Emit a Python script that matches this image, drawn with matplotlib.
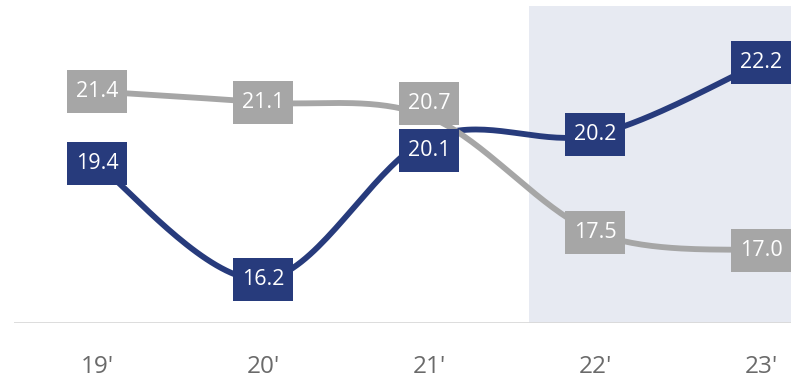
import numpy as np
import matplotlib.pyplot as plt
from matplotlib.patches import Rectangle

# data
years = ["19'", "20'", "21'", "22'", "23'"]
navy_vals = [19.4, 16.2, 20.1, 20.2, 22.2]
gray_vals = [21.4, 21.1, 20.7, 17.5, 17.0]

NAVY = '#273B7C'
GRAY = '#A6A6A6'
SHADE = '#E7EAF2'
plt.rcParams['font.family'] = ['Open Sans', 'DejaVu Sans']


def smooth(xs, ys, n=40):
    """Catmull-Rom style cubic bezier through the points."""
    xs = np.asarray(xs, float)
    ys = np.asarray(ys, float)
    px = np.concatenate([[xs[0]], xs, [xs[-1]]])
    py = np.concatenate([[ys[0]], ys, [ys[-1]]])
    out_x, out_y = [], []
    t = np.linspace(0, 1, n)
    for i in range(1, len(px) - 2):
        p0 = np.array([px[i], py[i]])
        p3 = np.array([px[i + 1], py[i + 1]])
        c1 = p0 + (np.array([px[i + 1], py[i + 1]]) - np.array([px[i - 1], py[i - 1]])) / 6
        c2 = p3 - (np.array([px[i + 2], py[i + 2]]) - np.array([px[i], py[i]])) / 6
        b = ((1 - t) ** 3)[:, None] * p0 + (3 * (1 - t) ** 2 * t)[:, None] * c1 \
            + (3 * (1 - t) * t ** 2)[:, None] * c2 + (t ** 3)[:, None] * p3
        out_x.extend(b[:, 0])
        out_y.extend(b[:, 1])
    return np.array(out_x), np.array(out_y)


fig = plt.figure(figsize=(7.91, 3.80), dpi=100)
ax = fig.add_axes([14 / 791, 1 - 323 / 380, 1 - 14 / 791, 323 / 380])
x = np.arange(len(years))
ax.set_xlim(-0.5, 4.18)
ax.set_ylim(15, 23.93)

# pixel -> data unit conversion for fixed-size label boxes
px_x = 4.68 / 777
px_y = 8.93 / 323
box_w, box_h = 60 * px_x, 43 * px_y

# forecast shading
ax.add_patch(Rectangle((2.6, 15), 2, 23.77 - 15, color=SHADE, lw=0, zorder=0))

sx, sy = smooth(x, navy_vals)
ax.plot(sx, sy, color=NAVY, lw=4.2, solid_capstyle='round', zorder=2)
sx, sy = smooth(x, gray_vals)
ax.plot(sx, sy, color=GRAY, lw=4.2, solid_capstyle='round', zorder=3)

# labels at 21' are nudged apart so they do not overlap
nudge = {('navy', 2): -12, ('gray', 2): 13}
for name, vals, col in [('navy', navy_vals, NAVY), ('gray', gray_vals, GRAY)]:
    for xi, v in zip(x, vals):
        yc = v + nudge.get((name, xi), 0) * px_y
        ax.add_patch(Rectangle((xi - box_w / 2, yc - box_h / 2), box_w, box_h,
                               fc=col, ec='none', zorder=5, clip_on=False))
        ax.text(xi, yc, f'{v:.1f}', ha='center', va='center', color='white',
                fontsize=15.5, zorder=6)

ax.axhline(15, color='#D9D9D9', lw=2, zorder=1)
for s in ax.spines.values():
    s.set_visible(False)
ax.set_yticks([])
ax.set_xticks(x)
ax.set_xticklabels(years, fontsize=17.5, color='#6A6A6A')
ax.tick_params(axis='x', length=0, pad=23)

fig.savefig('out.png', dpi=100)
